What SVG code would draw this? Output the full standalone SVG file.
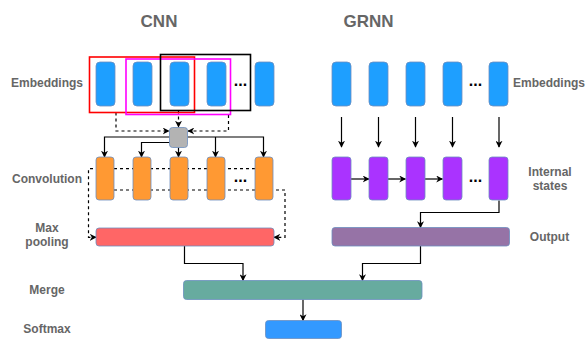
<svg xmlns="http://www.w3.org/2000/svg" width="587" height="339" viewBox="0 0 587 339">
<defs>
<marker id="ah" viewBox="0 0 10 10" refX="9" refY="5" markerWidth="7" markerHeight="7" markerUnits="userSpaceOnUse" orient="auto">
<path d="M0,0 L10,5 L0,10 L3,5 Z" fill="#000"/>
</marker>
<style>
.t{font-family:"Liberation Sans",Arial,sans-serif;font-weight:bold;fill:#666;}
.title{font-size:17px;text-anchor:middle;}
.lbl{font-size:12px;text-anchor:middle;}
.dots{font-family:"Liberation Sans",Arial,sans-serif;font-weight:bold;font-size:16px;fill:#000;text-anchor:middle;}
.c{fill:none;stroke:#000;stroke-width:1.2;marker-end:url(#ah);}
.d{fill:none;stroke:#000;stroke-width:1.2;stroke-dasharray:3,3;}
.da{marker-end:url(#ah);}
.emb{fill:#1E9FFF;stroke:#6C8EBF;stroke-width:0.8;}
.conv{fill:#FF9933;stroke:#6C8EBF;stroke-width:0.8;}
.st{fill:#AA33FF;stroke:#6C8EBF;stroke-width:0.8;}
.win{fill:none;stroke-width:1.6;}
</style>
</defs>
<rect width="587" height="339" fill="#fff"/>

<text class="t title" x="159" y="27">CNN</text>
<text class="t title" x="368.5" y="27">GRNN</text>

<g id="labels">
<text class="t lbl" x="47" y="87">Embeddings</text>
<text class="t lbl" x="47" y="183">Convolution</text>
<text class="t lbl" x="47" y="232">Max</text>
<text class="t lbl" x="47" y="246">pooling</text>
<text class="t lbl" x="47" y="294">Merge</text>
<text class="t lbl" x="47" y="333">Softmax</text>
<text class="t lbl" x="549" y="87">Embeddings</text>
<text class="t lbl" x="550" y="176">Internal</text>
<text class="t lbl" x="550" y="190">states</text>
<text class="t lbl" x="549.5" y="241">Output</text>
</g>

<g id="connectors">
<path class="d da" d="M116,112.5 V131 H169"/>
<path class="d da" d="M228.5,115 V131 H188"/>
<path class="d da" d="M178.5,110.5 V127"/>
<path class="c" d="M169.5,137 H104.5 V157"/>
<path class="c" d="M187.5,137 H263.5 V157"/>
<path class="c" d="M215.5,137 V157"/>
<path class="c" d="M178.5,147.5 V157"/>
<path class="c" d="M169.5,142.5 H141.5 V157"/>
<path class="d da" d="M255,168.7 H88.5 V237.3 H96"/>
<path class="d da" d="M114,190 H285 V237.3 H274"/>
<path class="c" d="M341.5,117 V147"/>
<path class="c" d="M378.5,117 V147"/>
<path class="c" d="M415.5,117 V147"/>
<path class="c" d="M452.5,117 V147"/>
<path class="c" d="M499,117 V147"/>
<path class="c" d="M351,179 H369"/>
<path class="c" d="M388,179 H405.5"/>
<path class="c" d="M424.5,179 H442.5"/>
<path class="c" d="M499,200.5 V212.5 H420.5 V227.5"/>
<path class="c" d="M184.5,246 V263.5 H243 V280.5"/>
<path class="c" d="M420.5,246 V263.5 H362.5 V280.5"/>
<path class="c" d="M303,299.5 V320.5"/>
</g>

<g id="cnn-embeddings">
<rect class="emb" x="96" y="62" width="19" height="44" rx="4"/>
<rect class="emb" x="133" y="62" width="19" height="44" rx="4"/>
<rect class="emb" x="170" y="62" width="19" height="44" rx="4"/>
<rect class="emb" x="207" y="62" width="19" height="44" rx="4"/>
<text class="dots" x="240.5" y="86">...</text>
<rect class="emb" x="255" y="62" width="19" height="44" rx="4"/>
</g>
<g id="windows">
<rect class="win" x="89.5" y="57" width="105" height="55.5" stroke="#FF0000"/>
<rect class="win" x="126" y="59" width="104.5" height="55.5" stroke="#FF00FF"/>
<rect class="win" x="160.5" y="54.5" width="90" height="56" stroke="#000"/>
</g>
<g id="filter">
<rect x="169.5" y="127.5" width="18" height="20" rx="3" fill="#B3B3B3" stroke="#6C8EBF" stroke-width="0.8"/>
</g>
<g id="convolution">
<rect class="conv" x="96" y="157" width="18" height="43" rx="3"/>
<rect class="conv" x="133" y="157" width="18" height="43" rx="3"/>
<rect class="conv" x="170" y="157" width="18" height="43" rx="3"/>
<rect class="conv" x="207" y="157" width="18" height="43" rx="3"/>
<text class="dots" x="240.5" y="182">...</text>
<rect class="conv" x="255" y="157" width="18" height="43" rx="3"/>
</g>
<g id="maxpool">
<rect x="96" y="228" width="178" height="18" rx="3" fill="#FF6666" stroke="#6C8EBF" stroke-width="0.8"/>
</g>

<g id="grnn-embeddings">
<rect class="emb" x="332" y="62" width="19" height="44" rx="4"/>
<rect class="emb" x="369" y="62" width="19" height="44" rx="4"/>
<rect class="emb" x="406" y="62" width="19" height="44" rx="4"/>
<rect class="emb" x="443" y="62" width="19" height="44" rx="4"/>
<text class="dots" x="475.5" y="86">...</text>
<rect class="emb" x="489" y="62" width="19" height="44" rx="4"/>
</g>
<g id="internal-states">
<rect class="st" x="332" y="157" width="19" height="43" rx="3"/>
<rect class="st" x="369" y="157" width="19" height="43" rx="3"/>
<rect class="st" x="406" y="157" width="19" height="43" rx="3"/>
<rect class="st" x="443" y="157" width="19" height="43" rx="3"/>
<text class="dots" x="475.5" y="182">...</text>
<rect class="st" x="489" y="157" width="19" height="43" rx="3"/>
</g>
<g id="output">
<rect x="332" y="227.5" width="177.5" height="18.5" rx="3" fill="#9673A6" stroke="#6C8EBF" stroke-width="0.8"/>
</g>
<g id="merge">
<rect x="183.5" y="280.5" width="238.5" height="19" rx="3" fill="#67AB9F" stroke="#6C8EBF" stroke-width="0.8"/>
</g>
<g id="softmax">
<rect x="265.5" y="320.5" width="76" height="18" rx="3" fill="#3399FF" stroke="#6C8EBF" stroke-width="0.8"/>
</g>
</svg>
